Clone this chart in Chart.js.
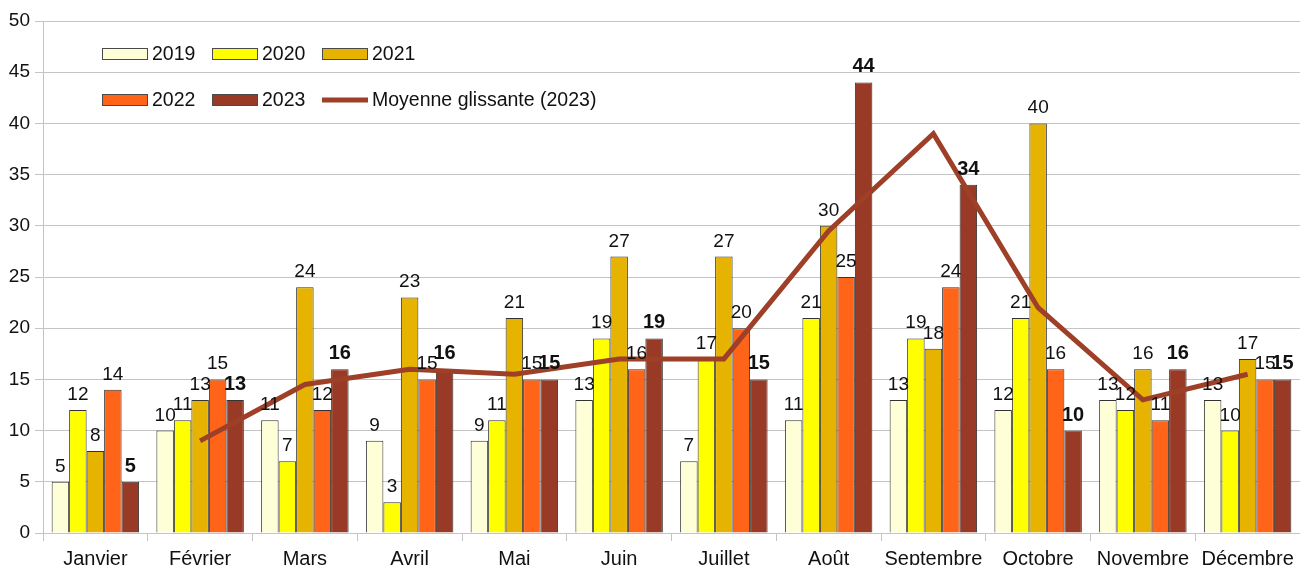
<!DOCTYPE html>
<html>
<head>
<meta charset="utf-8">
<script src="https://cdn.jsdelivr.net/npm/chart.js@4"></script>
<style>
  body { margin: 0; background: #fff; overflow: hidden; }
  #wrap { width: 1300px; height: 565px; }
</style>
</head>
<body>
<div id="wrap"><canvas id="cvChart" width="1300" height="565"></canvas></div>
<script>
// chart data
var months = ["Janvier", "Février", "Mars", "Avril", "Mai", "Juin",
              "Juillet", "Août", "Septembre", "Octobre", "Novembre", "Décembre"];
var values2019 = [5, 10, 11, 9, 9, 13, 7, 11, 13, 12, 13, 13];
var values2020 = [12, 11, 7, 3, 11, 19, 17, 21, 19, 21, 12, 10];
var values2021 = [8, 13, 24, 23, 21, 27, 27, 30, 18, 40, 16, 17];
var values2022 = [14, 15, 12, 15, 15, 16, 20, 25, 24, 16, 11, 15];
var values2023 = [5, 13, 16, 16, 15, 19, 15, 44, 34, 10, 16, 15];
var movingAvg2023 = [null, 9, 14.5, 16, 15.5, 17, 17, 29.5, 39, 22, 13, 15.5];
var yTicks = [0, 5, 10, 15, 20, 25, 30, 35, 40, 45, 50];

var fontFamily = "'Liberation Sans', Arial, sans-serif";
var textColor = "#111";
var barBorder = "#333";
var gridColor = "#c4c4c4";

Chart.defaults.font.family = fontFamily;
Chart.defaults.font.size = 20;
Chart.defaults.color = textColor;

function barSet(label, data, color) {
    return {
        type: "bar",
        label: label,
        data: data,
        backgroundColor: color,
        borderColor: barBorder,
        borderWidth: 1,
        categoryPercentage: 0.835,
        barPercentage: 1.0,
        order: 1
    };
}

// data labels above every bar, 2023 in bold
var barLabels = {
    id: "barLabels",
    afterDatasetsDraw: function (chart) {
        var ctx = chart.ctx;
        ctx.save();
        ctx.fillStyle = textColor;
        ctx.textAlign = "center";
        ctx.textBaseline = "alphabetic";
        chart.data.datasets.forEach(function (ds, di) {
            if (ds.type !== "bar") return;
            var meta = chart.getDatasetMeta(di);
            ctx.font = ds.label === "2023" ? "bold 20px " + fontFamily : "19px " + fontFamily;
            meta.data.forEach(function (bar, i) {
                ctx.fillText(String(ds.data[i]), bar.x, bar.y - 10);
            });
        });
        ctx.restore();
    }
};

// legend drawn inside the plot, two rows of three
var plotLegend = {
    id: "plotLegend",
    afterDraw: function (chart) {
        var ctx = chart.ctx;
        var cols = [102, 212, 322];
        var rows = [54, 100];
        ctx.save();
        ctx.font = "19.5px " + fontFamily;
        ctx.textBaseline = "middle";
        ctx.textAlign = "left";
        chart.data.datasets.forEach(function (ds, i) {
            var x = cols[i % 3];
            var y = rows[Math.floor(i / 3)];
            if (ds.type === "bar") {
                ctx.fillStyle = ds.backgroundColor;
                ctx.fillRect(x, y - 6, 46, 12);
                ctx.strokeStyle = "#4a4a4a";
                ctx.lineWidth = 1;
                ctx.strokeRect(x + 0.5, y - 5.5, 45, 11);
            } else {
                ctx.strokeStyle = ds.borderColor;
                ctx.lineWidth = 5;
                ctx.beginPath();
                ctx.moveTo(x, y);
                ctx.lineTo(x + 46, y);
                ctx.stroke();
            }
            ctx.fillStyle = textColor;
            ctx.fillText(ds.label, x + 50, y + 1);
        });
        ctx.restore();
    }
};

var ctx = document.getElementById("cvChart").getContext("2d");
var chart = new Chart(ctx, {
    data: {
        labels: months,
        datasets: [
            barSet("2019", values2019, "#ffffd7"),
            barSet("2020", values2020, "#ffff00"),
            barSet("2021", values2021, "#e6b400"),
            barSet("2022", values2022, "#ff6418"),
            barSet("2023", values2023, "#983a25"),
            {
                type: "line",
                label: "Moyenne glissante (2023)",
                data: movingAvg2023,
                borderColor: "#9e3f28",
                borderWidth: 5,
                pointRadius: 0,
                tension: 0,
                fill: false,
                order: 0
            }
        ]
    },
    options: {
        responsive: false,
        animation: false,
        layout: { padding: { top: 21, right: 0, left: 0, bottom: 0 } },
        plugins: {
            legend: { display: false },
            tooltip: { enabled: false }
        },
        scales: {
            x: {
                offset: true,
                grid: {
                    offset: true,
                    drawOnChartArea: false,
                    drawTicks: true,
                    tickLength: 8,
                    color: gridColor
                },
                border: { display: true, color: gridColor },
                ticks: { padding: 6, color: textColor, font: { size: 20 } },
                afterFit: function (scale) { scale.height = 32; }
            },
            y: {
                min: 0,
                max: 50,
                afterBuildTicks: function (scale) {
                    scale.ticks = yTicks.map(function (v) { return { value: v }; });
                },
                grid: { color: gridColor, tickLength: 8 },
                border: { display: true, color: gridColor },
                ticks: { padding: 5, color: textColor, font: { size: 19 } },
                afterFit: function (scale) { scale.width = 43; }
            }
        }
    },
    plugins: [barLabels, plotLegend]
});
</script>
</body>
</html>
